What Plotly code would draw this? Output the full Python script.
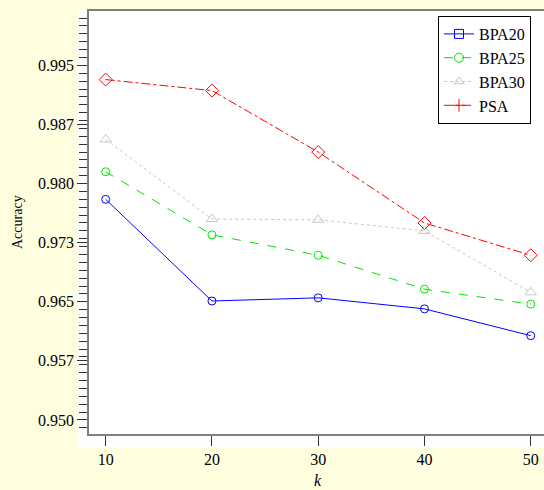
import plotly.graph_objects as go

k = [10, 20, 30, 40, 50]
bpa20 = [0.9780, 0.9651, 0.9655, 0.9641, 0.9607]
bpa25 = [0.9815, 0.9735, 0.9709, 0.9666, 0.9647]
bpa30 = [0.9856, 0.9755, 0.9754, 0.9740, 0.9662]
psa = [0.9932, 0.9918, 0.9840, 0.9750, 0.9709]

ytick_vals = [0.95, 0.9575, 0.965, 0.9725, 0.98, 0.9875, 0.995]
ytick_text = ["0.950", "0.957", "0.965", "0.973", "0.980", "0.987", "0.995"]
xtick_vals = [10, 20, 30, 40, 50]

FONT = "Liberation Serif, Times New Roman, serif"

series = [
    ("BPA20", bpa20, "#0000FF", "solid", "circle-open", 8, "square-open"),
    ("BPA25", bpa25, "#00E600", "dash", "circle-open", 8, "circle-open"),
    ("BPA30", bpa30, "#C8C8C8", "dot", "triangle-up-open", 10, "triangle-up-open"),
    ("PSA", psa, "#FF0000", "dashdot", "diamond-open", 10, "cross-thin-open"),
]

fig = go.Figure()
for name, vals, color, dash, sym, size, legsym in series:
    fig.add_trace(go.Scatter(
        x=k, y=vals, mode="lines+markers", name=name, showlegend=False,
        line=dict(color=color, width=1, dash=dash),
        marker=dict(symbol=sym, size=size, color=color, line=dict(color=color, width=1)),
    ))
for name, vals, color, dash, sym, size, legsym in series:
    fig.add_trace(go.Scatter(
        x=[None], y=[None], mode="lines+markers", name=name,
        line=dict(color=color, width=1, dash=dash),
        marker=dict(symbol=legsym, size=9, color=color, line=dict(color=color, width=1)),
    ))

W, H = 544, 490
L, R, T, B = 89, 0, 11, 56
pw, ph = W - L - R, H - T - B

def px_x(x):
    return (x - L) / pw

def px_y(y):
    return (H - B - y) / ph

fig.add_shape(type="rect", xref="paper", yref="paper",
              x0=px_x(78), x1=1.0, y0=px_y(447), y1=px_y(10),
              fillcolor="white", line=dict(width=0), layer="below")

fig.update_layout(
    width=W, height=H,
    margin=dict(l=L, r=R, t=T, b=B),
    paper_bgcolor="#FFFFE0",
    plot_bgcolor="white",
    font=dict(family=FONT, size=16, color="black"),
    showlegend=True,
    legend=dict(
        x=px_x(438), y=px_y(16), xanchor="left", yanchor="top",
        bgcolor="white", bordercolor="black", borderwidth=1,
        font=dict(family=FONT, size=16, color="black"),
        tracegroupgap=0, entrywidth=66, entrywidthmode="pixels",
    ),
    xaxis=dict(
        range=[8.43, 51.25], tickmode="array", tickvals=xtick_vals,
        ticks="outside", ticklen=10, tickcolor="#333333",
        showline=True, linecolor="#7F7F7F", linewidth=1.5, mirror=True,
        showgrid=False, zeroline=False,
        tickfont=dict(family=FONT, size=16),
    ),
    yaxis=dict(
        range=[0.94822, 1.0019], tickmode="array", tickvals=ytick_vals, ticktext=ytick_text,
        ticks="outside", ticklen=10, tickcolor="#333333",
        minor=dict(dtick=0.001, tick0=0.95, ticks="outside", ticklen=8, tickcolor="#333333", showgrid=False),
        showline=True, linecolor="#7F7F7F", linewidth=1.5, mirror=False,
        showgrid=False, zeroline=False,
        tickfont=dict(family=FONT, size=16),
    ),
    annotations=[
        dict(text="Accuracy", xref="paper", yref="paper", x=px_x(17), y=px_y(222),
             showarrow=False, textangle=-90, font=dict(family=FONT, size=14),
             xanchor="center", yanchor="middle"),
        dict(text="<i>k</i>", xref="paper", yref="paper", x=px_x(318), y=px_y(480),
             showarrow=False, font=dict(family=FONT, size=16),
             xanchor="center", yanchor="middle"),
    ],
)

fig.write_html(
    "out.html",
    config={"displayModeBar": False},
    post_script="document.body.style.margin='0';document.body.style.background='#FFFFE0';",
)
